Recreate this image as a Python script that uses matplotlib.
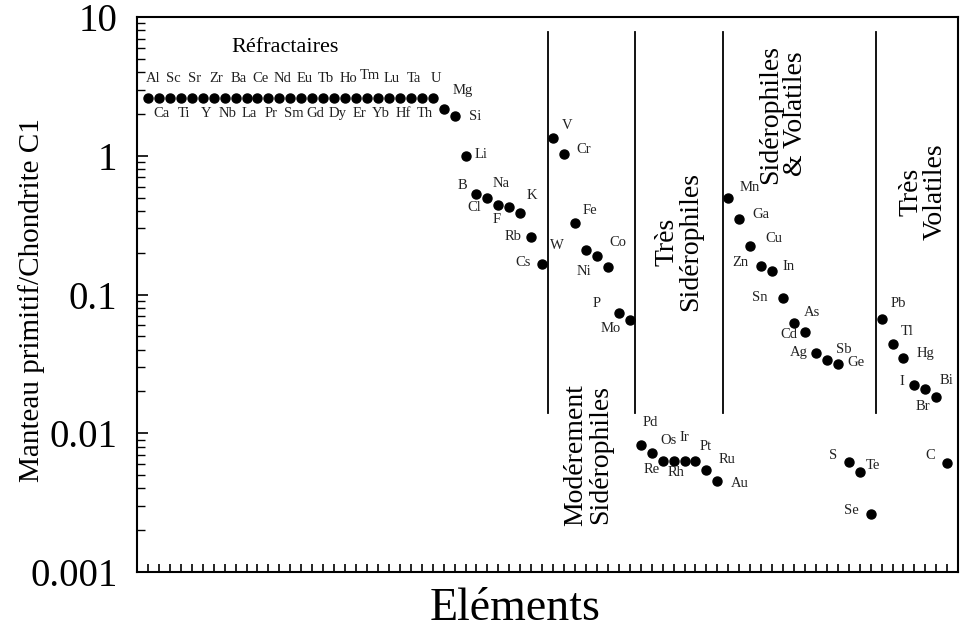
from matplotlib import pyplot as plt
import numpy as np

plt.rcParams['font.family'] = ['Liberation Serif', 'DejaVu Serif']

# elements in the order of the x axis
elements = ['Al', 'Ca', 'Sc', 'Ti', 'Sr', 'Y', 'Zr', 'Nb', 'Ba', 'La', 'Ce', 'Pr', 'Nd', 'Sm',
            'Eu', 'Gd', 'Tb', 'Dy', 'Ho', 'Er', 'Tm', 'Yb', 'Lu', 'Hf', 'Ta', 'Th', 'U',
            'Mg', 'Si', 'Li', 'B', 'Cl', 'Na', 'F', 'K', 'Rb', 'Cs',
            'V', 'Cr', 'Fe', 'W', 'Ni', 'Co', 'P', 'Mo',
            'Pd', 'Re', 'Os', 'Rh', 'Ir', 'Pt', 'Ru', 'Au',
            'Mn', 'Ga', 'Cu', 'Zn', 'In', 'Sn', 'As', 'Cd', 'Ag', 'Sb', 'Ge', 'S', 'Te', 'Se',
            'Pb', 'Tl', 'Hg', 'I', 'Br', 'Bi', 'C']
# manteau primitif / chondrite C1
ratio = [2.6] * 27 + [2.17, 1.93, 1.0, 0.53, 0.50, 0.44, 0.43, 0.39, 0.26, 0.166,
                      1.34, 1.03, 0.33, 0.21, 0.19, 0.158, 0.074, 0.065,
                      0.0082, 0.0072, 0.0063, 0.0063, 0.0063, 0.0063, 0.0054, 0.0045,
                      0.50, 0.35, 0.224, 0.16, 0.148, 0.094, 0.062, 0.054, 0.038, 0.034, 0.0316,
                      0.0062, 0.0053, 0.0026,
                      0.0665, 0.044, 0.035, 0.0223, 0.0209, 0.0182, 0.0061]
y_ticks = [0.001, 0.01, 0.1, 1, 10]
y_labels = ['0.001', '0.01', '0.1', '1', '10']
groups = ['Modérement\nSidérophiles', 'Très\nSidérophiles', 'Sidérophiles\n& Volatiles', 'Très\nVolatiles']

# label offsets in pixels (dx, dy up)
offs = {}
for i, el in enumerate(elements[:27]):
    offs[el] = (3, 20) if i % 2 == 0 else (3, -15)
offs['Al'] = (5, 20)
offs['Tm'] = (3, 23)
offs.update({
    'Mg': (19, 19), 'Si': (21, 0), 'Li': (16, 1), 'B': (-14, 9), 'Cl': (-13, -10),
    'Na': (3, 22), 'F': (-13, -13), 'K': (12, 17), 'Rb': (-18, 0), 'Cs': (-19, 1),
    'V': (14, 13), 'Cr': (20, 4), 'Fe': (15, 12), 'W': (-29, 4), 'Ni': (-13, -16),
    'Co': (10, 24), 'P': (-22, 9), 'Mo': (-19, -8),
    'Pd': (10, 23), 'Re': (0, -16), 'Os': (6, 21), 'Rh': (2, -11), 'Ir': (0, 24),
    'Pt': (10, 15), 'Ru': (21, 11), 'Au': (22, -2),
    'Mn': (21, 10), 'Ga': (22, 5), 'Cu': (24, 7), 'Zn': (-21, 4), 'In': (16, 4),
    'Sn': (-23, 1), 'As': (18, 11), 'Cd': (-16, -3), 'Ag': (-17, 0), 'Sb': (17, 10),
    'Ge': (18, 1), 'S': (-16, 7), 'Te': (13, 6), 'Se': (-19, 4),
    'Pb': (17, 16), 'Tl': (15, 12), 'Hg': (22, 4), 'I': (-13, 3), 'Br': (-2, -18),
    'Bi': (10, 17), 'C': (-17, 8),
})

x = np.arange(len(elements))

fig = plt.figure(figsize=(9.65, 6.31), dpi=100)
ax = fig.add_axes([0.142, 0.0935, 0.851, 0.8795])
ax.plot(x, ratio, 'o', color='black', ms=6.5, ls='none')

for xi, yi, el in zip(x, ratio, elements):
    dx, dy = offs[el]
    ax.annotate(el, (xi, yi), xytext=(dx, dy), textcoords='offset pixels',
                ha='center', va='center', fontsize=10.5, color='#222222')

# separation lines between the groups
for b in [36.5, 44.5, 52.5, 66.5]:
    ax.plot([b, b], [0.0139, 7.8], color='black', lw=1.3)

ax.text(12.5, 6.0, 'Réfractaires', fontsize=16, ha='center', va='center')
ax.text(40.2, 0.0070, groups[0], fontsize=20, rotation=90, ha='center', va='center', linespacing=0.95)
ax.text(48.5, 0.24, groups[1], fontsize=20, rotation=90, ha='center', va='center', linespacing=0.95)
ax.text(58.0, 2.0, groups[2], fontsize=20, rotation=90, ha='center', va='center', linespacing=0.95)
ax.text(70.8, 0.55, groups[3], fontsize=20, rotation=90, ha='center', va='center', linespacing=0.95)

ax.set_yscale('log')
ax.set_ylim(0.001, 10)
ax.set_xlim(-1, 74)
ax.set_yticks(y_ticks)
ax.set_yticklabels(y_labels, fontsize=28)
ax.set_xticks(x)
ax.set_xticklabels([])
ax.tick_params(axis='x', direction='in', length=6, width=1.2, top=False)
ax.tick_params(axis='y', which='major', direction='in', length=8, width=1.2, right=False, pad=14)
ax.tick_params(axis='y', which='minor', direction='in', length=6, width=1.0, right=False)
for s in ax.spines.values():
    s.set_linewidth(1.5)

ax.set_ylabel('Manteau primitif/Chondrite C1', fontsize=21)
ax.yaxis.set_label_coords(-0.112, 0.49)
ax.set_xlabel('Eléments', fontsize=33, va='baseline')
ax.xaxis.set_label_coords(0.46, -0.087)

plt.savefig('out.png', dpi=100)
